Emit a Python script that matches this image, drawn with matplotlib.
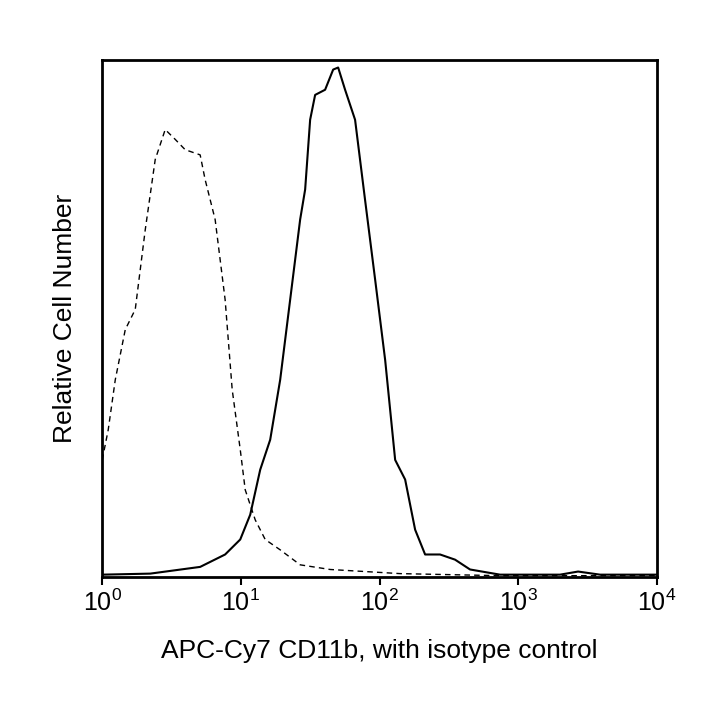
import numpy as np
import matplotlib.pyplot as plt

plt.rcParams['font.family'] = ['Liberation Sans', 'DejaVu Sans']

# log10 of fluorescence and relative counts
solid_logx = [0, 0.346, 0.706, 0.886, 0.995, 1.067, 1.139, 1.211, 1.283, 1.355, 1.427,
              1.463, 1.499, 1.535, 1.607, 1.665, 1.701, 1.751, 1.823, 1.895, 1.968,
              2.040, 2.112, 2.184, 2.256, 2.328, 2.436, 2.544, 2.652, 2.868, 3.301,
              3.431, 3.589, 4.0]
solid_y = [0.004, 0.006, 0.019, 0.043, 0.072, 0.12, 0.207, 0.265, 0.381, 0.536, 0.691,
           0.749, 0.884, 0.932, 0.942, 0.981, 0.985, 0.942, 0.884, 0.729, 0.574,
           0.419, 0.226, 0.188, 0.091, 0.043, 0.043, 0.033, 0.014, 0.004, 0.004,
           0.010, 0.004, 0.004]

iso_logx = [0, 0.043, 0.094, 0.166, 0.238, 0.310, 0.382, 0.454, 0.526, 0.598, 0.706,
            0.742, 0.814, 0.886, 0.937, 0.995, 1.031, 1.103, 1.175, 1.283, 1.427,
            1.643, 2.148, 2.868, 4.0]
iso_y = [0.226, 0.284, 0.381, 0.478, 0.517, 0.671, 0.807, 0.865, 0.846, 0.826, 0.816,
         0.768, 0.691, 0.536, 0.362, 0.246, 0.168, 0.110, 0.072, 0.052, 0.023,
         0.014, 0.006, 0.002, 0.002]

fig = plt.figure(figsize=(7.2, 7.2), dpi=100)
ax = fig.add_axes([0.142, 0.199, 0.7705, 0.718])
ax.plot(10 ** np.array(solid_logx), solid_y, color='black', lw=1.5)
ax.plot(10 ** np.array(iso_logx), iso_y, color='black', lw=1.0, ls=(0, (4, 3)))
ax.set_xscale('log')
ax.set_xlim(1, 1e4)
ax.set_ylim(0, 1.0)
ax.set_yticks([])
ax.minorticks_off()
ax.set_xticks([1, 10, 100, 1000, 10000])
ax.tick_params(axis='x', direction='out', length=6, width=1.5, labelsize=18)
for s in ax.spines.values():
    s.set_linewidth(2)
ax.set_xlabel('APC-Cy7 CD11b, with isotype control', fontsize=19, labelpad=16)
ax.set_ylabel('Relative Cell Number', fontsize=19, labelpad=18)
fig.savefig('out.png')
